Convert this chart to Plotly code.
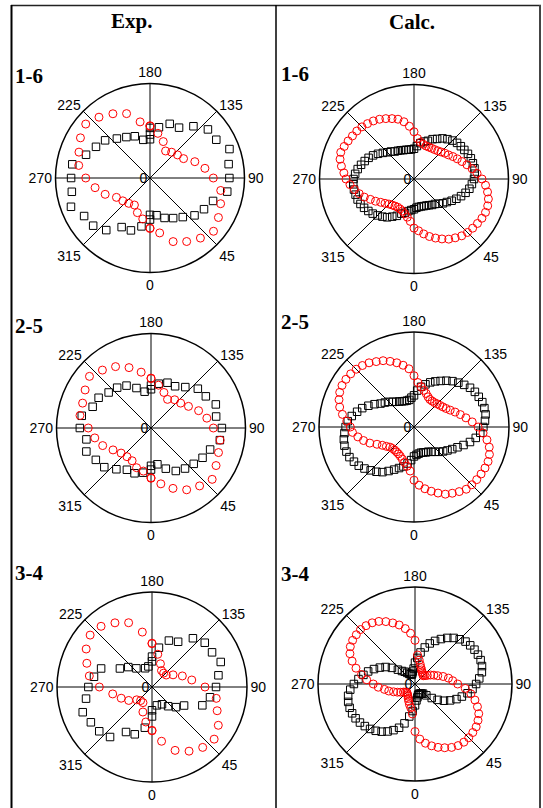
import plotly.graph_objects as go

W, H = 543, 808

angle_ticks = [0, 45, 90, 135, 180, 225, 270, 315]
angle_labels = ["0", "45", "90", "135", "180", "225", "270", "315"]

# ---------------- Exp. data (angle in deg, normalised radius) ----------------
exp16_sq_theta = [0, 0, 10, 20, 30, 40, 50, 60, 70, 80, 90, 100, 110, 120, 130, 140, 150, 160, 170,
                  180, 180, 180, 190, 200, 210, 220, 230, 240, 250, 260, 270, 280, 290, 300, 310, 320, 330, 340, 350]
exp16_sq_r = [0.39, 0.44, 0.40, 0.45, 0.49, 0.54, 0.615, 0.66, 0.71, 0.83, 0.84, 0.845, 0.895, 0.81, 0.80, 0.715, 0.615, 0.61, 0.545,
              0.53, 0.46, 0.41, 0.41, 0.47, 0.50, 0.545, 0.62, 0.66, 0.72, 0.835, 0.835, 0.84, 0.89, 0.805, 0.785, 0.72, 0.60, 0.59, 0.52]
exp16_ci_theta = [0, 0, 10, 20, 30, 40, 50, 60, 70, 80, 90, 100, 110, 120, 130, 140, 150, 160, 170,
                  180, 180, 190, 200, 210, 220, 230, 240, 250, 260, 270, 280, 290, 300, 310, 320, 330, 340, 350]
exp16_ci_r = [0.53, 0.535, 0.59, 0.716, 0.776, 0.83, 0.877, 0.836, 0.795, 0.76, 0.67, 0.59, 0.505, 0.41, 0.38, 0.356, 0.33, 0.41, 0.48,
              0.548, 0.553, 0.603, 0.725, 0.785, 0.84, 0.888, 0.85, 0.80, 0.766, 0.68, 0.59, 0.505, 0.41, 0.376, 0.35, 0.33, 0.39, 0.44]

exp25_sq_theta = [0, 0, 10, 20, 30, 40, 50, 60, 70, 80, 90, 100, 110, 120, 130, 140, 150, 160, 170,
                  180, 180, 190, 200, 210, 220, 230, 240, 250, 260, 270, 280, 290, 300, 310, 320, 330, 340, 350]
exp25_sq_r = [0.40, 0.44, 0.39, 0.458, 0.525, 0.56, 0.59, 0.63, 0.666, 0.74, 0.75, 0.70, 0.73, 0.67, 0.647, 0.565, 0.51, 0.51, 0.476,
              0.45, 0.41, 0.39, 0.45, 0.518, 0.557, 0.585, 0.64, 0.657, 0.744, 0.753, 0.694, 0.728, 0.674, 0.645, 0.57, 0.51, 0.51, 0.48]
exp25_ci_theta = [0, 0, 10, 20, 30, 40, 50, 60, 70, 80, 90, 100, 110, 120, 130, 140, 150, 160, 170,
                  180, 180, 190, 200, 210, 220, 230, 240, 250, 260, 270, 280, 290, 300, 310, 320, 330, 340, 350]
exp25_ci_r = [0.527, 0.532, 0.60, 0.68, 0.755, 0.80, 0.845, 0.795, 0.76, 0.743, 0.66, 0.60, 0.536, 0.458, 0.41, 0.39, 0.35, 0.40, 0.46,
              0.523, 0.528, 0.60, 0.68, 0.75, 0.80, 0.85, 0.805, 0.77, 0.763, 0.664, 0.604, 0.544, 0.464, 0.413, 0.396, 0.40, 0.447, 0.463]

exp34_sq_theta = [0, 0, 15, 30, 40, 50, 60, 70, 80, 90, 100, 110, 120, 130, 140, 150, 160, 170,
                  180, 180, 190, 200, 220, 230, 240, 250, 260, 270, 280, 290, 300, 310, 320, 330, 340, 350]
exp34_sq_r = [0.245, 0.31, 0.20, 0.21, 0.264, 0.33, 0.39, 0.564, 0.62, 0.674, 0.71, 0.77, 0.73, 0.725, 0.67, 0.55, 0.52, 0.42,
              0.32, 0.27, 0.22, 0.21, 0.256, 0.326, 0.39, 0.57, 0.62, 0.67, 0.705, 0.776, 0.743, 0.725, 0.687, 0.547, 0.53, 0.435]
exp34_ci_theta = [0, 0, 10, 20, 30, 40, 50, 60, 70, 80, 90, 100, 110, 120, 130, 140, 150, 160, 170,
                  180, 180, 190, 200, 210, 220, 230, 240, 250, 260, 270, 280, 290, 300, 310, 320, 330, 340, 350]
exp34_ci_r = [0.456, 0.461, 0.58, 0.71, 0.78, 0.83, 0.854, 0.806, 0.73, 0.687, 0.558, 0.425, 0.34, 0.256, 0.196, 0.19, 0.20, 0.26, 0.35,
              0.456, 0.461, 0.587, 0.72, 0.78, 0.834, 0.85, 0.80, 0.73, 0.67, 0.554, 0.42, 0.345, 0.283, 0.21, 0.186, 0.19, 0.28, 0.374]

# ---------------- Calc. data (5 deg steps) ----------------
calc_theta = list(range(0, 360, 5))
calc16_ci_r = [0.52, 0.55, 0.59, 0.63, 0.665, 0.70, 0.735, 0.76, 0.785, 0.80, 0.81, 0.82, 0.83, 0.835, 0.83, 0.815, 0.79, 0.76,
               0.72, 0.67, 0.625, 0.58, 0.54, 0.505, 0.475, 0.445, 0.425, 0.405, 0.39, 0.38, 0.375, 0.372, 0.372, 0.38, 0.395, 0.43,
               0.50, 0.56, 0.615, 0.655, 0.68, 0.705, 0.73, 0.75, 0.765, 0.78, 0.79, 0.795, 0.805, 0.815, 0.825, 0.81, 0.78, 0.745,
               0.72, 0.68, 0.64, 0.60, 0.56, 0.51, 0.47, 0.43, 0.40, 0.375, 0.36, 0.35, 0.345, 0.35, 0.36, 0.38, 0.41, 0.45]
calc16_sq_r = [0.32, 0.305, 0.30, 0.30, 0.305, 0.31, 0.32, 0.335, 0.345, 0.37, 0.40, 0.425, 0.46, 0.495, 0.53, 0.565, 0.595, 0.615,
               0.635, 0.645, 0.65, 0.645, 0.64, 0.63, 0.615, 0.605, 0.595, 0.575, 0.55, 0.525, 0.49, 0.465, 0.43, 0.41, 0.385, 0.35,
               0.32, 0.315, 0.315, 0.32, 0.325, 0.335, 0.345, 0.355, 0.38, 0.40, 0.43, 0.465, 0.50, 0.53, 0.555, 0.58, 0.605, 0.625,
               0.64, 0.645, 0.645, 0.64, 0.635, 0.625, 0.61, 0.59, 0.57, 0.545, 0.52, 0.495, 0.46, 0.43, 0.39, 0.37, 0.345, 0.33]
calc25_ci_r = [0.56, 0.615, 0.66, 0.70, 0.74, 0.78, 0.805, 0.83, 0.855, 0.86, 0.862, 0.862, 0.863, 0.86, 0.845, 0.82, 0.78, 0.73,
               0.675, 0.615, 0.555, 0.505, 0.46, 0.42, 0.39, 0.37, 0.355, 0.345, 0.335, 0.333, 0.335, 0.35, 0.375, 0.40, 0.43, 0.47,
               0.54, 0.615, 0.66, 0.70, 0.735, 0.77, 0.795, 0.825, 0.845, 0.86, 0.87, 0.875, 0.875, 0.863, 0.84, 0.81, 0.765, 0.71,
               0.67, 0.65, 0.60, 0.55, 0.495, 0.43, 0.385, 0.355, 0.33, 0.32, 0.317, 0.32, 0.327, 0.34, 0.36, 0.385, 0.42, 0.465]
calc25_sq_r = [0.31, 0.295, 0.285, 0.28, 0.285, 0.295, 0.30, 0.32, 0.34, 0.37, 0.40, 0.43, 0.465, 0.505, 0.555, 0.61, 0.66, 0.70,
               0.73, 0.75, 0.765, 0.767, 0.765, 0.752, 0.74, 0.72, 0.69, 0.66, 0.63, 0.595, 0.56, 0.53, 0.50, 0.465, 0.43, 0.385,
               0.333, 0.31, 0.29, 0.287, 0.29, 0.298, 0.31, 0.325, 0.345, 0.375, 0.40, 0.43, 0.48, 0.53, 0.58, 0.62, 0.665, 0.70,
               0.72, 0.735, 0.75, 0.758, 0.757, 0.75, 0.73, 0.71, 0.68, 0.645, 0.615, 0.58, 0.535, 0.495, 0.46, 0.43, 0.39, 0.35]
calc34_ci_r = [0.49, 0.57, 0.62, 0.66, 0.695, 0.725, 0.755, 0.775, 0.783, 0.783, 0.778, 0.77, 0.75, 0.725, 0.685, 0.64, 0.585, 0.52,
               0.44, 0.39, 0.35, 0.30, 0.25, 0.215, 0.185, 0.155, 0.135, 0.12, 0.125, 0.135, 0.145, 0.16, 0.18, 0.21, 0.25, 0.30,
               0.45, 0.525, 0.58, 0.63, 0.67, 0.71, 0.745, 0.77, 0.785, 0.794, 0.79, 0.785, 0.77, 0.74, 0.69, 0.63, 0.56, 0.50,
               0.43, 0.38, 0.32, 0.28, 0.235, 0.20, 0.17, 0.145, 0.13, 0.12, 0.125, 0.135, 0.145, 0.165, 0.19, 0.22, 0.25, 0.31]
calc34_sq_r = [0.22, 0.17, 0.14, 0.12, 0.11, 0.11, 0.115, 0.12, 0.13, 0.165, 0.225, 0.285, 0.345, 0.40, 0.455, 0.50, 0.55, 0.595,
               0.63, 0.665, 0.70, 0.715, 0.72, 0.716, 0.708, 0.695, 0.68, 0.652, 0.62, 0.58, 0.535, 0.49, 0.445, 0.39, 0.33, 0.27,
               0.22, 0.16, 0.13, 0.11, 0.10, 0.11, 0.12, 0.14, 0.165, 0.19, 0.23, 0.29, 0.35, 0.40, 0.45, 0.50, 0.54, 0.585,
               0.63, 0.67, 0.70, 0.713, 0.717, 0.715, 0.707, 0.693, 0.675, 0.655, 0.63, 0.60, 0.565, 0.525, 0.48, 0.42, 0.34, 0.28]

row_labels = ["1-6", "2-5", "3-4"]
col_titles = ["Exp.", "Calc."]

# panel geometry in pixels: (center x, center y, radius)
panels = [
    (150, 178, 94.5), (414, 179, 94.5),
    (151, 428, 94.5), (414, 427, 95),
    (152, 687, 95), (415, 684, 97),
]

series = [
    (exp16_sq_theta, exp16_sq_r, exp16_ci_theta, exp16_ci_r),
    (calc_theta, calc16_sq_r, calc_theta, calc16_ci_r),
    (exp25_sq_theta, exp25_sq_r, exp25_ci_theta, exp25_ci_r),
    (calc_theta, calc25_sq_r, calc_theta, calc25_ci_r),
    (exp34_sq_theta, exp34_sq_r, exp34_ci_theta, exp34_ci_r),
    (calc_theta, calc34_sq_r, calc_theta, calc34_ci_r),
]

fig = go.Figure()
tickfont = dict(family="Liberation Sans, Arial, sans-serif", size=14, color="black")

for i, ((cx, cy, R), (tq, rq, tc, rc)) in enumerate(zip(panels, series)):
    name = "polar" if i == 0 else f"polar{i+1}"
    fig.add_trace(go.Scatterpolar(
        theta=tq, r=rq, mode="markers", subplot=name, showlegend=False, hoverinfo="skip",
        marker=dict(symbol="square-open", size=7.5, color="black", line=dict(width=1, color="black")),
        cliponaxis=False))
    fig.add_trace(go.Scatterpolar(
        theta=tc, r=rc, mode="markers", subplot=name, showlegend=False, hoverinfo="skip",
        marker=dict(symbol="circle-open", size=8, color="red", line=dict(width=1, color="red")),
        cliponaxis=False))
    fig.update_layout(**{name: dict(
        domain=dict(x=[(cx - R) / W, (cx + R) / W], y=[1 - (cy + R) / H, 1 - (cy - R) / H]),
        bgcolor="rgba(0,0,0,0)",
        angularaxis=dict(rotation=270, direction="counterclockwise", tickmode="array",
                         tickvals=angle_ticks, ticktext=angle_labels, showgrid=True,
                         gridcolor="black", gridwidth=1.4, showline=True, linecolor="black",
                         linewidth=1.5, ticks="", tickfont=tickfont, layer="below traces"),
        radialaxis=dict(range=[0, 1], showgrid=False, showline=False, tickmode="array",
                        tickvals=[0], ticktext=["0"], angle=90, side="counterclockwise",
                        ticks="", tickfont=tickfont, tickangle=90, layer="below traces"),
    )})

annotations = []
title_font = dict(family="Liberation Serif, Times New Roman, serif", size=21, color="black")
annotations.append(dict(text="<b>Exp.</b>", x=131 / W, y=1 - 21 / H, xref="paper", yref="paper",
                        showarrow=False, xanchor="center", yanchor="middle", font=title_font))
annotations.append(dict(text="<b>Calc.</b>", x=412 / W, y=1 - 22 / H, xref="paper", yref="paper",
                        showarrow=False, xanchor="center", yanchor="middle", font=title_font))
row_y = [(76, 74), (326, 322), (573, 574)]
for lab, (ye, yc) in zip(row_labels, row_y):
    annotations.append(dict(text=f"<b>{lab}</b>", x=13 / W, y=1 - ye / H, xref="paper", yref="paper",
                            showarrow=False, xanchor="left", yanchor="middle", font=title_font))
    annotations.append(dict(text=f"<b>{lab}</b>", x=279 / W, y=1 - yc / H, xref="paper", yref="paper",
                            showarrow=False, xanchor="left", yanchor="middle", font=title_font))

def hline(x0, x1, y, w=1.5, c="#222"):
    return dict(type="line", xref="paper", yref="paper", x0=x0 / W, x1=x1 / W, y0=1 - y / H, y1=1 - y / H,
                line=dict(color=c, width=w))

def vline(x, y0, y1, w=1.5, c="#222"):
    return dict(type="line", xref="paper", yref="paper", x0=x / W, x1=x / W, y0=1 - y0 / H, y1=1 - y1 / H,
                line=dict(color=c, width=w))

shapes = [
    hline(11, 541, 5.5),
    vline(11.5, 5, 808, w=2, c="black"),
    vline(540, 5, 808, w=2, c="#444"),
    vline(276, 5, 808, w=1.5, c="black"),
]

fig.update_layout(width=W, height=H, margin=dict(l=0, r=0, t=0, b=0),
                  paper_bgcolor="white", plot_bgcolor="white",
                  annotations=annotations, shapes=shapes)

fig.write_html("out.html", config={"displayModeBar": False},
               post_script="document.body.style.margin='0';document.body.style.overflow='hidden';")
